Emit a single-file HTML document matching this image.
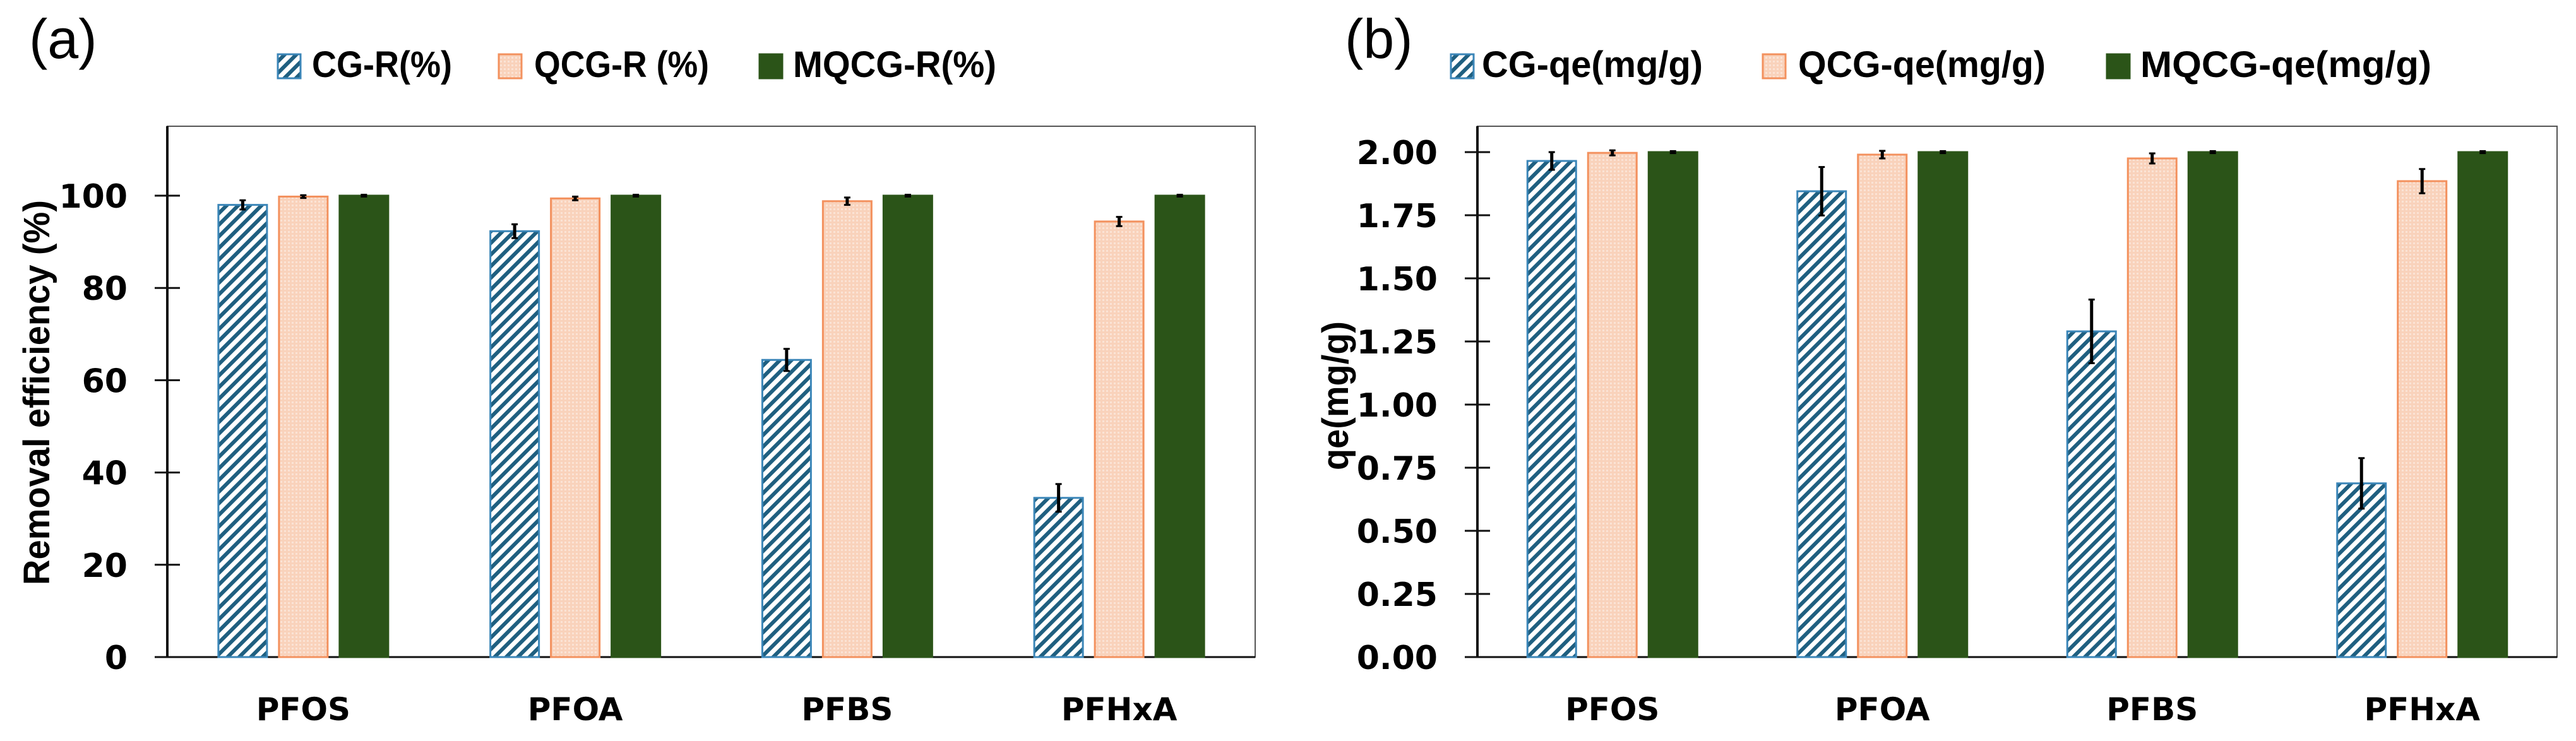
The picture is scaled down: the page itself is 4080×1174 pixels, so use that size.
<!DOCTYPE html>
<html><head><meta charset="utf-8"><style>
html,body{margin:0;padding:0;background:#fff;}
svg{display:block;}
</style></head><body>
<svg id="fig" width="4080" height="1174" viewBox="0 0 4080 1174" xmlns="http://www.w3.org/2000/svg">
<defs>
<pattern id="hatch" patternUnits="userSpaceOnUse" width="13" height="13" patternTransform="rotate(45)">
<rect width="13" height="13" fill="#ffffff"/>
<rect x="0" y="0" width="6" height="13" fill="#1f5f80"/>
</pattern>
<pattern id="dots" patternUnits="userSpaceOnUse" width="6" height="6">
<rect width="6" height="6" fill="#f9d2bb"/>
<rect x="0" y="0" width="3" height="3" fill="#fbe3d5"/>
</pattern>
</defs>
<g id="root"></g>
</svg>
<script>
const categories = ["PFOS","PFOA","PFBS","PFHxA"];
const seriesNamesA = ["CG-R(%)","QCG-R (%)","MQCG-R(%)"];
const seriesNamesB = ["CG-qe(mg/g)","QCG-qe(mg/g)","MQCG-qe(mg/g)"];
const cgR = [98.0, 92.3, 64.4, 34.5];
const qcgR = [99.8, 99.4, 98.8, 94.4];
const mqcgR = [100, 100, 100, 100];
const cgRErr = [1.0, 1.5, 2.4, 3.0];
const qcgRErr = [0.3, 0.4, 0.8, 1.0];
const mqcgRErr = [0.2, 0.2, 0.2, 0.2];
const cgQe = [1.965, 1.845, 1.29, 0.688];
const qcgQe = [1.997, 1.99, 1.975, 1.885];
const mqcgQe = [2.0, 2.0, 2.0, 2.0];
const cgQeErr = [0.035, 0.096, 0.126, 0.10];
const qcgQeErr = [0.01, 0.015, 0.02, 0.048];
const mqcgQeErr = [0.004, 0.004, 0.004, 0.004];
const ticksA = [0,20,40,60,80,100];
const ticksB = [0,0.25,0.5,0.75,1.0,1.25,1.5,1.75,2.0];

const NS="http://www.w3.org/2000/svg";
const root=document.getElementById('root');
function mk(tag,attrs,parent){const e=document.createElementNS(NS,tag);for(const k in attrs)e.setAttribute(k,attrs[k]);(parent||root).appendChild(e);return e;}
const fills=["url(#hatch)","url(#dots)","#2b5418"];
const strokes=["#3b86b8","#f3915e","#2b5418"];

function chart(cfg){
  const g=mk('g',{});
  
  
  const L=cfg.left,R=cfg.right,T=200,B=1041;
  const y=v=>B-(v-cfg.min)/(cfg.max-cfg.min)*(B-cfg.yTop);
  const gw=(R-L)/categories.length;
  const xc=i=>L+gw*(i+0.5);
  const bw=77, step=96;
  const fr=mk('rect',{x:L,y:T,width:R-L,height:B-T,fill:'none',stroke:'#555',"stroke-width":2},g);
  
  
  const ax=mk('line',{x1:L,y1:T,x2:L,y2:B,stroke:'#111',"stroke-width":4},g);
  
  
  const bx=mk('line',{x1:L-20,y1:B,x2:R,y2:B,stroke:'#111',"stroke-width":3},g);
  
  
  cfg.ticks.forEach(t=>{
    const tl=mk('line',{x1:L-20,y1:y(t),x2:L+20,y2:y(t),stroke:'#111',"stroke-width":3},g);
    
    
    const tx=mk('text',{x:cfg.labelRight,y:y(t)+19,"text-anchor":"end","font-family":"DejaVu Sans, Liberation Sans, sans-serif","font-weight":"bold","font-size":52,fill:'#000'},g);
    tx.textContent=cfg.fmt(t);
    
    
  });
  categories.forEach((c,i)=>{
    const tx=mk('text',{x:xc(i),y:1141,"text-anchor":"middle","font-family":"DejaVu Sans, Liberation Sans, sans-serif","font-weight":"bold","font-size":50,fill:'#000'},g);
    tx.textContent=c;
    
    
    cfg.series.forEach((s,k)=>{
      const v=s[i], e=cfg.errs[k][i];
      const x0=xc(i)+(k-1)*step-bw/2;
      const r=mk('rect',{x:x0,y:y(v),width:bw,height:B-y(v),fill:fills[k],stroke:strokes[k],"stroke-width":3},g);
      
      
      const el=mk('line',{x1:x0+bw/2,y1:y(v+e),x2:x0+bw/2,y2:y(v-e),stroke:'#000',"stroke-width":5},g);
      
      
      const c1=mk('line',{x1:x0+bw/2-5,y1:y(v+e),x2:x0+bw/2+5,y2:y(v+e),stroke:'#000',"stroke-width":3},g);
      
      
      const c2=mk('line',{x1:x0+bw/2-5,y1:y(v-e),x2:x0+bw/2+5,y2:y(v-e),stroke:'#000',"stroke-width":3},g);
      
      
    });
  });
  const yt=mk('text',{x:0,y:0,"text-anchor":"middle","font-family":"Liberation Sans, sans-serif","font-weight":"bold","font-size":58,fill:'#000',transform:`translate(${cfg.titleX},${cfg.titleY}) rotate(-90)`,textLength:cfg.titleLen,lengthAdjust:'spacingAndGlyphs'},g);
  yt.textContent=cfg.title;
  
  
  const pl=mk('text',{x:cfg.panelX,y:92,"font-family":"Liberation Sans, sans-serif","font-size":88,fill:'#000'},g);
  pl.textContent=cfg.panel;
  
  
  cfg.sn.forEach((n,k)=>{
    const sw=mk('rect',{x:cfg.legSw[k],y:86,width:36,height:38,fill:fills[k],stroke:strokes[k],"stroke-width":3},g);
    
    
    const lt=mk('text',{x:cfg.legTx[k],y:122,"font-family":"Liberation Sans, sans-serif","font-weight":"bold","font-size":58,fill:'#000',textLength:cfg.legLen[k],lengthAdjust:'spacingAndGlyphs'},g);
    lt.textContent=n;
    
    
  });
}
chart({name:'chart-a-removal-efficiency',left:265,right:1988,min:0,max:100,yTop:310,ticks:ticksA,fmt:t=>String(t),labelRight:202,
  series:[cgR,qcgR,mqcgR],errs:[cgRErr,qcgRErr,mqcgRErr],sn:seriesNamesA,title:'Removal efficiency (%)',titleX:78,titleY:622,titleLen:610,
  panel:'(a)',panelX:46,legSw:[440,790,1203],legTx:[494,846,1256],legLen:[222,277,322]});
chart({name:'chart-b-qe',left:2340,right:4050,min:0,max:2,yTop:241,ticks:ticksB,fmt:t=>t.toFixed(2),labelRight:2277,
  series:[cgQe,qcgQe,mqcgQe],errs:[cgQeErr,qcgQeErr,mqcgQeErr],sn:seriesNamesB,title:'qe(mg/g)',titleX:2135,titleY:627,titleLen:236,
  panel:'(b)',panelX:2130,legSw:[2298,2792,3337],legTx:[2347,2848,3390],legLen:[350,392,461]});
</script>
</body></html>
